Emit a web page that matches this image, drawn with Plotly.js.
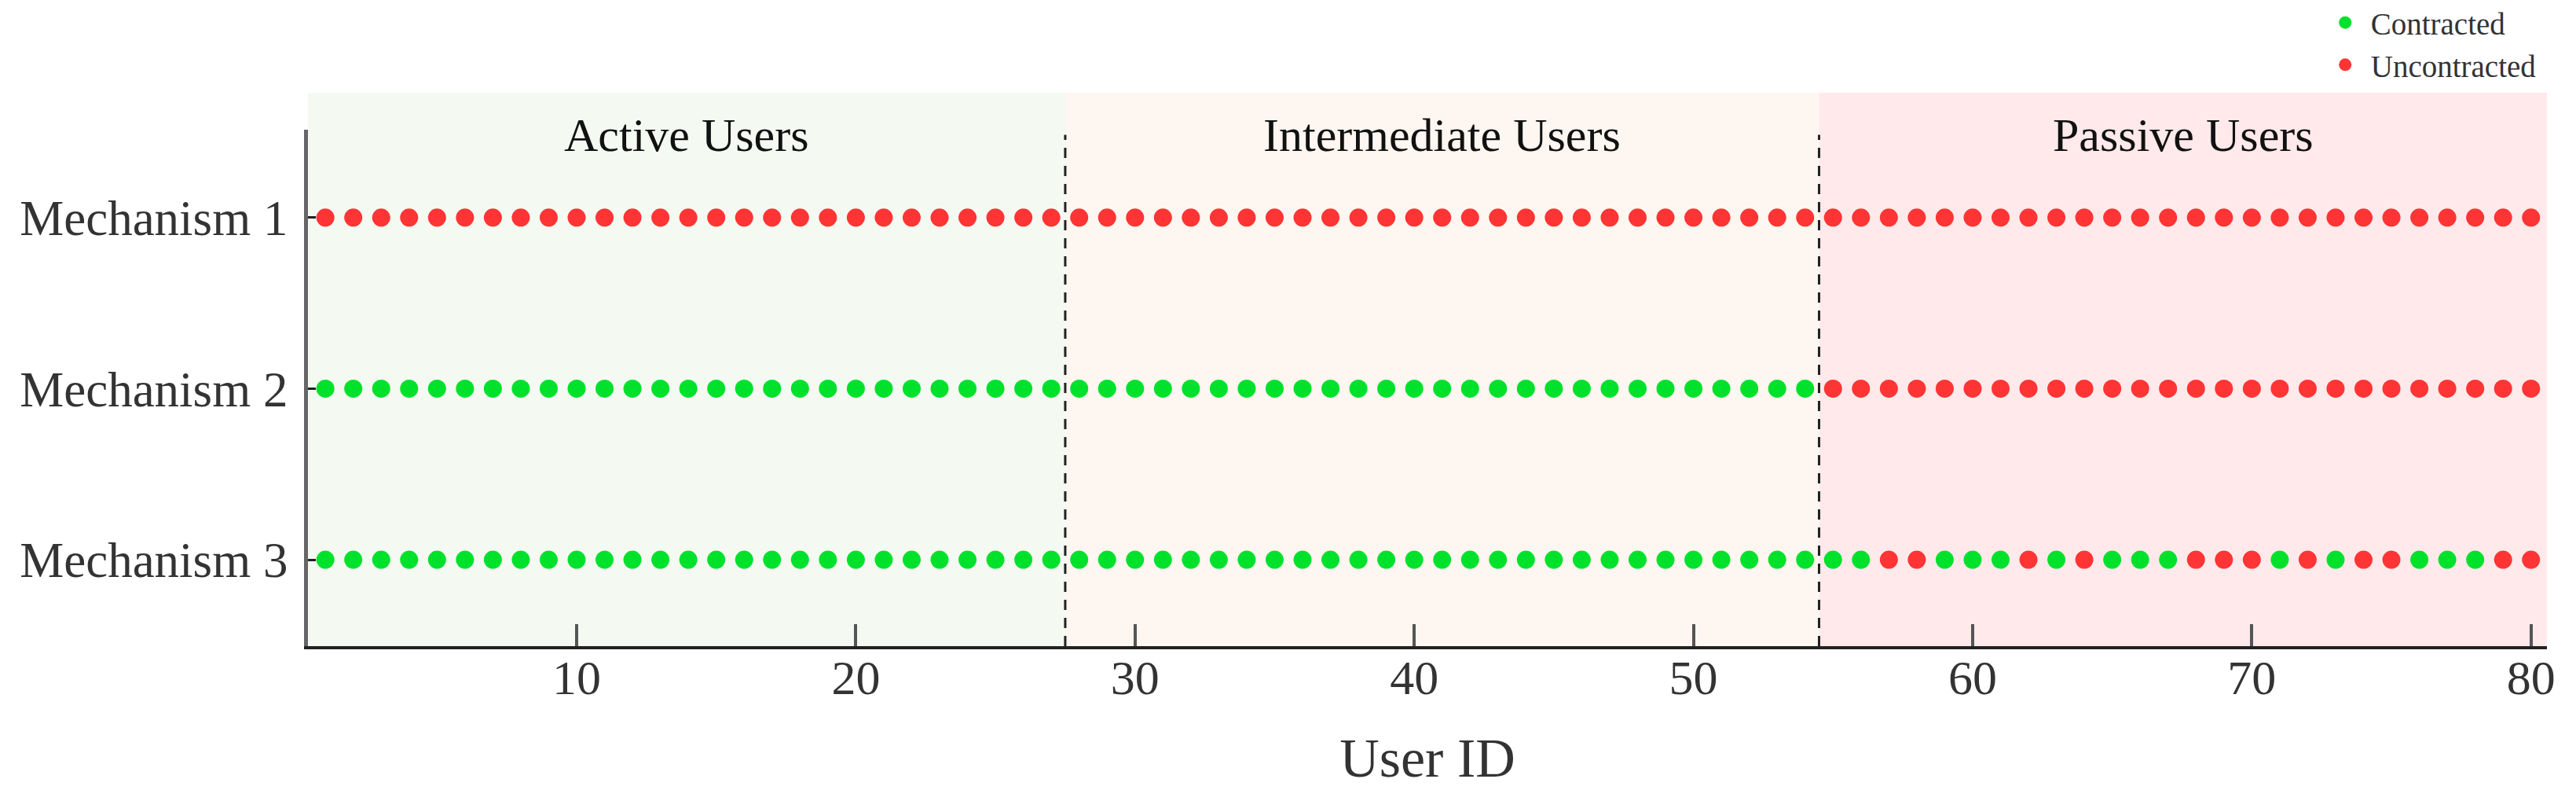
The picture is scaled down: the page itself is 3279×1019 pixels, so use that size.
<!DOCTYPE html>
<html>
<head>
<meta charset="utf-8">
<script src="https://cdn.plot.ly/plotly-3.0.1.min.js"></script>
<style>
  html, body { margin: 0; padding: 0; background: #ffffff; }
  #chart { width: 3279px; height: 1019px; }
</style>
</head>
<body>
<div id="chart"></div>
<script>
// ---------- DATA ----------
const userIds = [1,2,3,4,5,6,7,8,9,10,11,12,13,14,15,16,17,18,19,20,
                 21,22,23,24,25,26,27,28,29,30,31,32,33,34,35,36,37,38,39,40,
                 41,42,43,44,45,46,47,48,49,50,51,52,53,54,55,56,57,58,59,60,
                 61,62,63,64,65,66,67,68,69,70,71,72,73,74,75,76,77,78,79,80];

const mechanisms = ['Mechanism 1', 'Mechanism 2', 'Mechanism 3'];

// 1 = Contracted, 0 = Uncontracted (one value per user)
const mechanism1Status = [0,0,0,0,0,0,0,0,0,0,0,0,0,0,0,0,0,0,0,0,
                          0,0,0,0,0,0,0,0,0,0,0,0,0,0,0,0,0,0,0,0,
                          0,0,0,0,0,0,0,0,0,0,0,0,0,0,0,0,0,0,0,0,
                          0,0,0,0,0,0,0,0,0,0,0,0,0,0,0,0,0,0,0,0];
const mechanism2Status = [1,1,1,1,1,1,1,1,1,1,1,1,1,1,1,1,1,1,1,1,
                          1,1,1,1,1,1,1,1,1,1,1,1,1,1,1,1,1,1,1,1,
                          1,1,1,1,1,1,1,1,1,1,1,1,1,1,0,0,0,0,0,0,
                          0,0,0,0,0,0,0,0,0,0,0,0,0,0,0,0,0,0,0,0];
const mechanism3Status = [1,1,1,1,1,1,1,1,1,1,1,1,1,1,1,1,1,1,1,1,
                          1,1,1,1,1,1,1,1,1,1,1,1,1,1,1,1,1,1,1,1,
                          1,1,1,1,1,1,1,1,1,1,1,1,1,1,1,1,0,0,1,1,
                          1,0,1,0,1,1,1,0,0,0,1,0,1,0,0,1,1,1,0,0];

const statusNames = ['Contracted', 'Uncontracted'];

const groupNames = ['Active Users', 'Intermediate Users', 'Passive Users'];
const groupFirstUser = [1, 28, 55];
const groupLastUser = [27, 54, 80];

const xTickValues = [10, 20, 30, 40, 50, 60, 70, 80];

// ---------- STYLE ----------
const serif = 'Liberation Serif, Times New Roman, serif';
const colorContracted = '#00e12c';
const colorUncontracted = '#ff3434';
const groupFill = ['#f4f9f2', '#fef6f0', '#ffe9eb'];
const xRange = [0.377, 80.57];
const yRange = [3.505, 0.486];

// ---------- BUILD TRACES ----------
const allStatus = [mechanism1Status, mechanism2Status, mechanism3Status];
const cx = [], cy = [], ux = [], uy = [];
allStatus.forEach((arr, m) => {
  arr.forEach((v, i) => {
    if (v === 1) { cx.push(userIds[i]); cy.push(m + 1); }
    else { ux.push(userIds[i]); uy.push(m + 1); }
  });
});

const traces = [
  {
    type: 'scatter', mode: 'markers', name: statusNames[0],
    x: cx, y: cy,
    marker: { color: colorContracted, size: 23, line: { width: 0 } },
    hoverinfo: 'x+y'
  },
  {
    type: 'scatter', mode: 'markers', name: statusNames[1],
    x: ux, y: uy,
    marker: { color: colorUncontracted, size: 23, line: { width: 0 } },
    hoverinfo: 'x+y'
  },
  // carrier trace so the label-only overlay axis is drawn
  {
    type: 'scatter', mode: 'markers', xaxis: 'x2', yaxis: 'y',
    x: [], y: [], showlegend: false, hoverinfo: 'skip'
  }
];

// ---------- SHAPES & ANNOTATIONS ----------
const shapes = [];
const annotations = [];
groupNames.forEach((g, i) => {
  const x0 = i === 0 ? xRange[0] : groupFirstUser[i] - 0.5;
  const x1 = i === groupNames.length - 1 ? xRange[1] : groupLastUser[i] + 0.5;
  shapes.push({
    type: 'rect', xref: 'x', yref: 'paper',
    x0: x0, x1: x1, y0: 0, y1: 1.0714,
    fillcolor: groupFill[i], line: { width: 0 }, layer: 'below'
  });
  annotations.push({
    xref: 'x', yref: 'paper', x: (x0 + x1) / 2, y: 0.989,
    text: g, showarrow: false, xanchor: 'center', yanchor: 'middle',
    font: { family: serif, size: 60, color: '#111' }
  });
  if (i > 0) {
    shapes.push({
      type: 'line', xref: 'x', yref: 'paper',
      x0: groupFirstUser[i] - 0.5, x1: groupFirstUser[i] - 0.5, y0: 0, y1: 0.99,
      line: { color: '#222', width: 3, dash: '13px,10px' }, layer: 'above'
    });
  }
});

const layout = {
  width: 3279, height: 1019, autosize: false,
  margin: { l: 392, r: 37, t: 165, b: 197, pad: 0, autoexpand: false },
  paper_bgcolor: '#ffffff', plot_bgcolor: '#ffffff',
  showlegend: true,
  legend: {
    x: 0.8985, y: 1.256, xanchor: 'left', yanchor: 'top',
    font: { family: serif, size: 39, color: '#333' },
    bgcolor: 'rgba(0,0,0,0)', borderwidth: 0,
    itemwidth: 55
  },
  // main axis: line and inside ticks
  xaxis: {
    range: xRange, showgrid: false, zeroline: false,
    showline: true, linecolor: '#222', linewidth: 4,
    ticks: 'inside', ticklen: 28, tickwidth: 4, tickcolor: '#555',
    tickvals: xTickValues, showticklabels: false
  },
  // overlay axis: tick labels and title
  xaxis2: {
    overlaying: 'x', anchor: 'y', side: 'bottom',
    range: xRange, showgrid: false, zeroline: false, showline: false,
    ticks: '',
    tickvals: xTickValues,
    tickfont: { family: serif, size: 62, color: '#333' },
    ticklabelstandoff: -2,
    title: { text: 'User ID', font: { family: serif, size: 70, color: '#333' }, standoff: 43 }
  },
  yaxis: {
    range: yRange, showgrid: false, zeroline: false,
    showline: true, linecolor: '#666', linewidth: 5,
    ticks: 'inside', ticklen: 10, tickwidth: 3, tickcolor: '#222',
    tickvals: [1, 2, 3], ticktext: mechanisms,
    tickfont: { family: serif, size: 63, color: '#333' },
    ticklabelstandoff: 8
  },
  shapes: shapes,
  annotations: annotations
};

Plotly.newPlot('chart', traces, layout, { displayModeBar: false, staticPlot: true });
</script>
</body>
</html>
